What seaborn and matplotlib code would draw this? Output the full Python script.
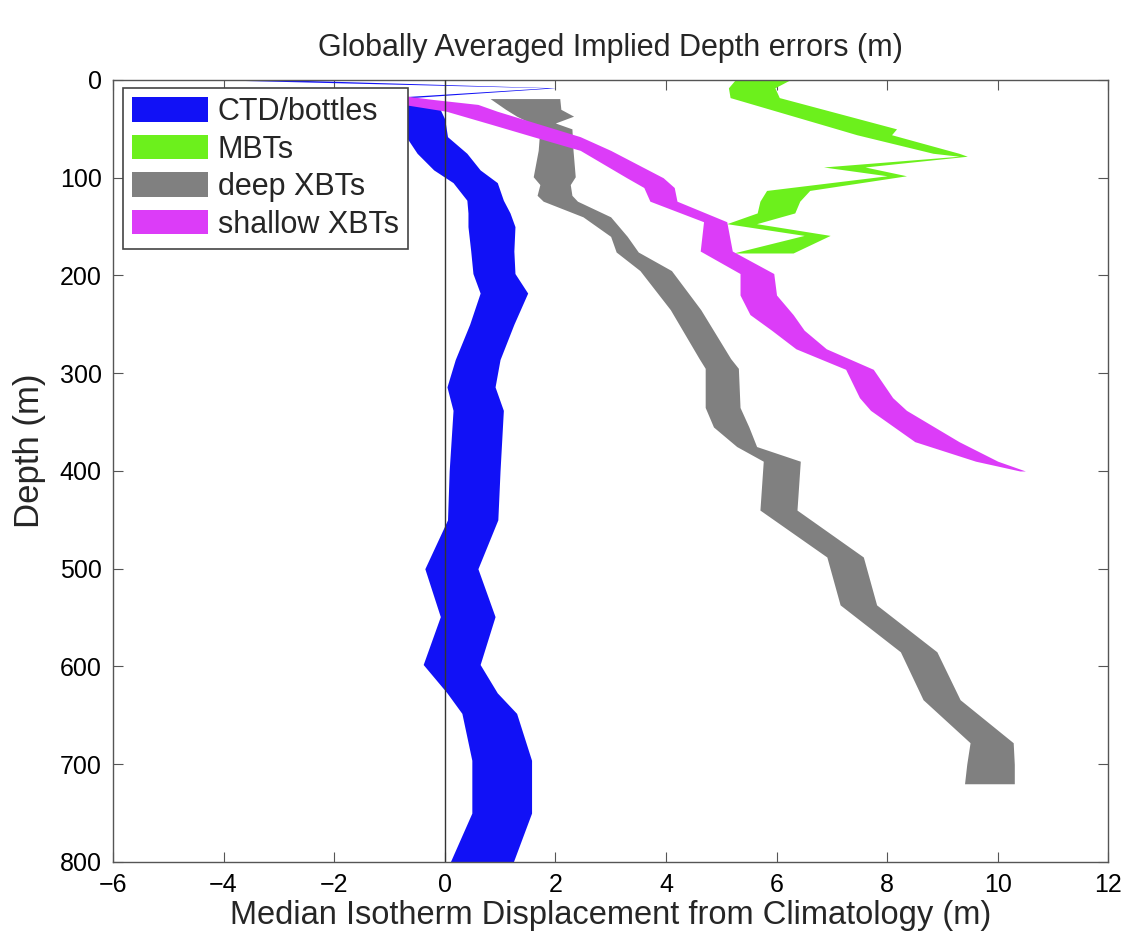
import matplotlib
matplotlib.use("Agg")
import matplotlib.pyplot as plt
import seaborn as sns

# Depth (m) and lower / upper bounds (m) of each band
ctd_depth = [0, 8, 18, 28, 40, 58, 75, 92, 105, 123, 136, 150, 175, 198, 218, 250,
             286, 314, 338, 400, 450, 500, 549, 598, 627, 648, 696, 750, 800]
ctd_lo = [-4.0, 1.85, -1.0, -0.9, -0.8, -0.7, -0.5, -0.2, 0.15, 0.4, 0.42, 0.42, 0.47,
          0.51, 0.64, 0.45, 0.19, 0.04, 0.15, 0.08, 0.05, -0.36, -0.08, -0.39, 0.04,
          0.31, 0.49, 0.49, 0.10]
ctd_hi = [-2.8, 2.0, -0.6, -0.1, 0.0, 0.05, 0.4, 0.64, 0.95, 1.06, 1.18, 1.27, 1.25,
          1.27, 1.5, 1.25, 1.0, 0.91, 1.06, 1.0, 0.96, 0.6, 0.91, 0.64, 0.95, 1.3,
          1.57, 1.57, 1.24]

mbt_depth = [0, 8, 18, 50, 56, 75, 78, 89, 98, 113, 124, 136, 147, 159, 177]
mbt_lo = [5.25, 5.13, 5.16, 7.09, 7.45, 8.83, 9.3, 6.85, 8.0, 5.82, 5.7, 5.65, 5.1, 6.5, 5.22]
mbt_hi = [6.24, 5.97, 6.05, 8.17, 8.08, 9.3, 9.45, 7.6, 8.35, 6.6, 6.42, 6.33, 5.64, 6.97, 6.3]

deep_depth = [19, 30, 37, 44, 50, 72, 99, 107, 118, 124, 140, 160, 176, 195, 235, 285,
              295, 335, 355, 375, 390, 440, 488, 537, 585, 634, 678, 700, 720]
deep_lo = [0.82, 1.1, 1.3, 1.55, 1.72, 1.69, 1.6, 1.72, 1.67, 1.78, 2.5, 3.0, 3.1, 3.53,
           4.08, 4.6, 4.71, 4.71, 4.86, 5.28, 5.76, 5.7, 6.91, 7.15, 8.24, 8.65, 9.5,
           9.44, 9.4]
deep_hi = [2.08, 2.1, 2.33, 2.0, 2.3, 2.32, 2.36, 2.27, 2.3, 2.4, 3.0, 3.3, 3.5, 4.1,
           4.63, 5.17, 5.31, 5.34, 5.5, 5.64, 6.43, 6.37, 7.57, 7.81, 8.9, 9.32, 10.28,
           10.3, 10.3]

shallow_depth = [15, 20, 25, 32, 45, 58, 72, 100, 110, 124, 145, 175, 198, 220, 240,
                 256, 275, 296, 325, 338, 370, 390, 400]
shallow_lo = [-1.0, -0.9, -0.75, 0.03, 0.82, 1.6, 2.45, 3.29, 3.6, 3.71, 4.68, 4.62,
              5.34, 5.34, 5.52, 5.91, 6.35, 7.25, 7.5, 7.7, 8.5, 9.6, 10.4]
shallow_hi = [-0.9, -0.2, 0.6, 0.95, 1.7, 2.45, 3.0, 3.95, 4.15, 4.2, 5.1, 5.2, 5.95,
              6.0, 6.3, 6.5, 6.9, 7.75, 8.1, 8.35, 9.3, 10.0, 10.5]

series_names = ["CTD/bottles", "MBTs", "deep XBTs", "shallow XBTs"]
series_colors = ["#1111f6", "#6cf01c", "#808080", "#dc3cf8"]

x_ticks = [-6, -4, -2, 0, 2, 4, 6, 8, 10, 12]
y_ticks = [0, 100, 200, 300, 400, 500, 600, 700, 800]

sns.set_style("white")
plt.rcParams["font.family"] = ["Liberation Sans", "DejaVu Sans"]

fig = plt.figure(figsize=(11.33, 9.41), dpi=100)
ax = fig.add_axes([0.0997, 0.084, 0.8785, 0.831])

bands = [(ctd_depth, ctd_lo, ctd_hi), (mbt_depth, mbt_lo, mbt_hi),
         (deep_depth, deep_lo, deep_hi), (shallow_depth, shallow_lo, shallow_hi)]
for (d, lo, hi), name, col in zip(bands, series_names, series_colors):
    ax.fill_betweenx(d, lo, hi, color=col, linewidth=0, label=name)

ax.axvline(0, color="#333333", linewidth=1.0, zorder=5)

ax.set_xlim(-6, 12)
ax.set_ylim(800, 0)
ax.set_xticks(x_ticks)
ax.set_yticks(y_ticks)
ax.tick_params(direction="in", length=7, width=0.8, colors="#555555",
               labelcolor="black", labelsize=18, top=True, right=True,
               bottom=True, left=True, pad=8)
for s in ax.spines.values():
    s.set_color("#555555")
    s.set_linewidth(1.0)

ax.set_title("Globally Averaged Implied Depth errors (m)", fontsize=22, pad=17)
ax.set_xlabel("Median Isotherm Displacement from Climatology (m)", fontsize=23.5,
              labelpad=2)
ax.set_ylabel("Depth (m)", fontsize=25)
ax.yaxis.set_label_coords(-0.067, 0.526)

leg = ax.legend(loc="upper left", bbox_to_anchor=(0.01, 0.99), fontsize=22,
                frameon=True, fancybox=False, framealpha=1.0, borderpad=0.3,
                handlelength=2.5, handleheight=0.85, handletextpad=0.3,
                labelspacing=0.25, borderaxespad=0.0)
leg.set_zorder(10)
leg.get_frame().set_edgecolor("#444444")
leg.get_frame().set_linewidth(1.2)

fig.savefig("out.png", dpi=100, facecolor="white")
